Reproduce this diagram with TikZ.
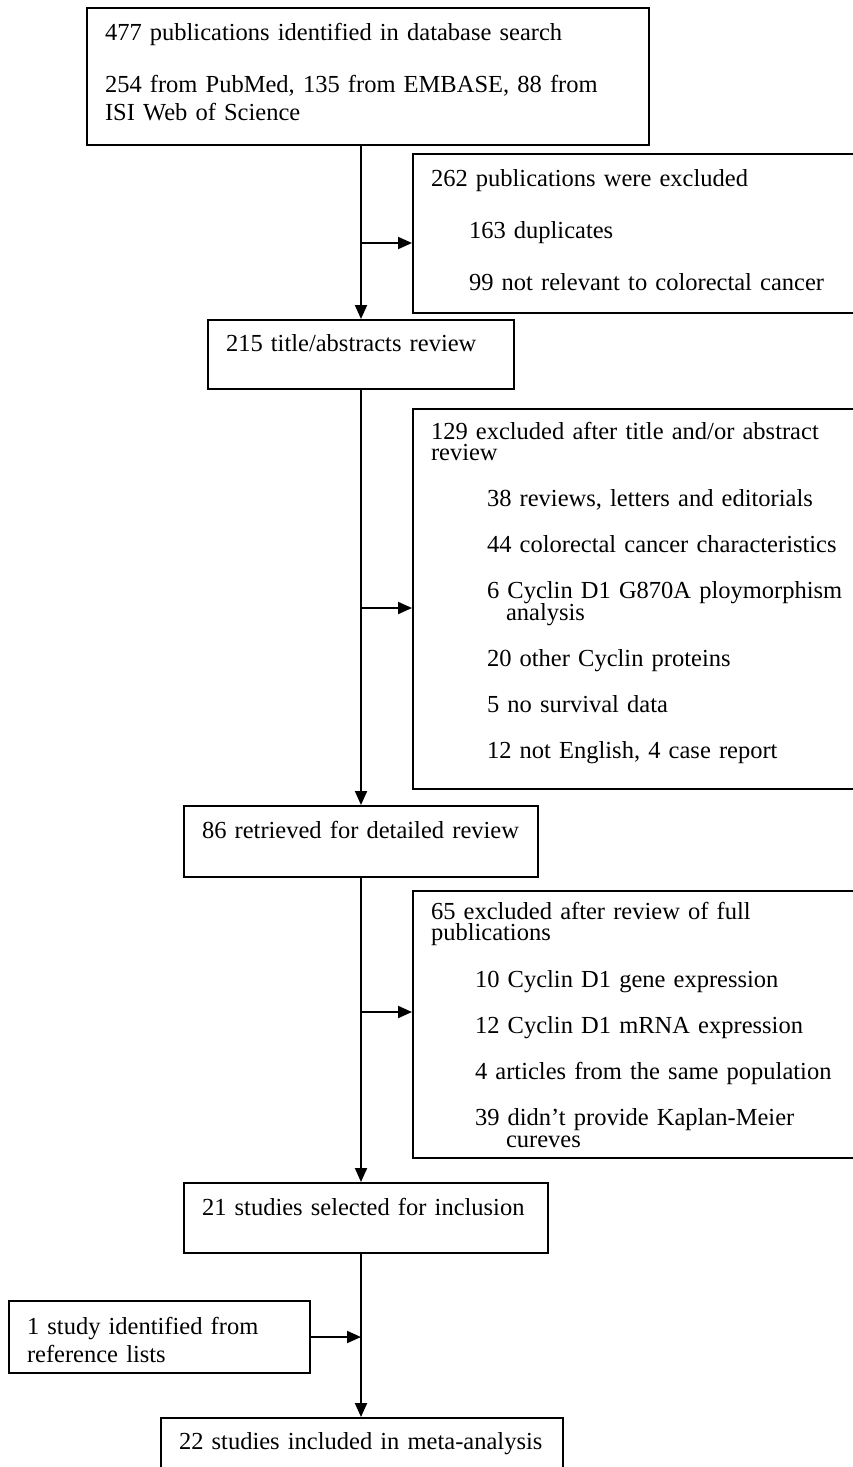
\documentclass[tikz,border=0pt]{standalone}
\usepackage{fontspec}
\setmainfont{Liberation Serif}
\usetikzlibrary{arrows.meta}

\lineskiplimit=-20pt
\normallineskiplimit=-20pt

\tikzset{
	flowbox/.style={draw, line width=1pt, anchor=north west, align=left, inner xsep=9pt, inner ysep=0pt,
		font=\fontsize{12.25}{14}\selectfont, text height=16pt},
	exclbox/.style={flowbox, font=\fontsize{12.25}{10.75}\selectfont, text height=15pt},
	flowarrow/.style={line width=1pt, -{Triangle[length=7pt,width=6pt]}}
}

\begin{document}
\begin{tikzpicture}[x=0.5pt, y=-0.5pt]
		\useasboundingbox (0,0) rectangle (852,1467);
		
		\node[flowbox, text width=263pt, text depth=52.5pt] (search) at (86,7)
		{477 publications identified in database search\\[12pt]
			254 from PubMed, 135 from EMBASE, 88 from\\ISI Web of Science};
		\node[exclbox, text width=216pt, text height=16pt, text depth=63.5pt] (excla) at (412,153)
		{262 publications were excluded\\[15.25pt]
			\hspace*{19pt}163 duplicates\\[15.25pt]
			\hspace*{19pt}99 not relevant to colorectal cancer};
		\node[flowbox, text width=135pt, text height=15.5pt, text depth=19pt] (title) at (207,319)
		{\mbox{215 title/abstracts review}};
		\node[exclbox, text width=216pt, text depth=175pt] (exclb) at (412,408)
		{129 excluded after title and/or abstract\\review\\[12.25pt]
			\hspace*{28pt}38 reviews, letters and editorials\\[12.25pt]
			\hspace*{28pt}44 colorectal cancer characteristics\\[12.25pt]
			\hspace*{28pt}6 Cyclin D1 G870A ploymorphism\\
			\hspace*{37.5pt}analysis\\[12.25pt]
			\hspace*{28pt}20 other Cyclin proteins\\[12.25pt]
			\hspace*{28pt}5 no survival data\\[12.25pt]
			\hspace*{28pt}12 not English, 4 case report};
		\node[flowbox, text width=159pt, text depth=19.5pt] (detail) at (183,805)
		{\mbox{86 retrieved for detailed review}};
		\node[exclbox, text width=216pt, text height=14pt, text depth=119.5pt] (exclc) at (412,890)
		{65 excluded after review of full\\publications\\[12.5pt]
			\hspace*{22pt}10 Cyclin D1 gene expression\\[12.5pt]
			\hspace*{22pt}12 Cyclin D1 mRNA expression\\[12.25pt]
			\hspace*{22pt}4 articles from the same population\\[12.25pt]
			\hspace*{22pt}39 didn’t provide Kaplan-Meier\\
			\hspace*{37.5pt}cureves};
		\node[flowbox, text width=164pt, text depth=19pt] (select) at (183,1182)
		{\mbox{21 studies selected for inclusion}};
		\node[flowbox, text width=132.5pt, text height=16.5pt, text depth=19.5pt] (reflist) at (8,1300)
		{1 study identified from\\reference lists};
		\node[flowbox, text width=183pt, text height=15.5pt, text depth=19.5pt] (meta) at (160,1417)
		{\mbox{22 studies included in meta-analysis}};
		
		\coordinate (ja) at (360,243);
		\coordinate (jb) at (360,608);
		\coordinate (jc) at (360,1012);
		
		\draw[flowarrow] (search.south -| title.north) -- (title.north);
		\draw[flowarrow] (ja) -- (ja -| excla.west);
		\draw[flowarrow] (title.south) -- (title.south |- detail.north);
		\draw[flowarrow] (jb) -- (jb -| exclb.west);
		\draw[flowarrow] (detail.south) -- (detail.south |- select.north);
		\draw[flowarrow] (jc) -- (jc -| exclc.west);
		\draw[flowarrow] (select.south -| detail.south) -- (detail.south |- meta.north);
		\draw[flowarrow] (reflist.east) -- (reflist.east -| detail.south);
		
\end{tikzpicture}
\end{document}
